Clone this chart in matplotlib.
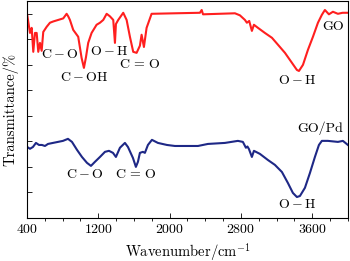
import matplotlib
matplotlib.use('Agg')
import matplotlib.pyplot as plt
from matplotlib.ticker import MultipleLocator, NullFormatter

plt.rcParams['font.family'] = 'serif'
plt.rcParams['font.serif'] = ['cmr10', 'DejaVu Serif']
plt.rcParams['mathtext.fontset'] = 'cm'
plt.rcParams['axes.formatter.use_mathtext'] = True

# GO spectrum
go_x = [403, 434, 453, 471, 490, 509, 527, 546, 565, 583, 621, 658, 695, 751,
        807, 845, 863, 882, 919, 975, 1013, 1039, 1062, 1087, 1125, 1181, 1219,
        1256, 1294, 1331, 1368, 1387, 1398, 1424, 1480, 1518, 1555, 1592, 1630,
        1667, 1686, 1712, 1742, 1798, 2060, 2340, 2360, 2375, 2733, 2789, 2845,
        2867, 2893, 2923, 2946, 2991, 3069, 3148, 3215, 3294, 3372, 3428, 3451,
        3496, 3552, 3608, 3664, 3708, 3742, 3787, 3832, 3888, 3940, 4000]
go_y = [7.96, 7.25, 7.45, 6.51, 7.25, 7.25, 6.51, 6.86, 6.55, 7.29, 7.49, 7.65,
        7.70, 7.76, 7.82, 8.00, 7.90, 7.76, 7.37, 7.10, 6.27, 5.88, 6.30, 6.86,
        7.25, 7.57, 7.65, 7.76, 8.00, 7.90, 7.76, 6.86, 7.60, 7.76, 8.04, 7.76,
        7.10, 6.51, 6.47, 6.75, 7.18, 6.70, 7.45, 8.00, 8.02, 8.04, 8.15, 7.98,
        8.02, 7.94, 7.76, 7.65, 7.72, 7.33, 7.57, 7.45, 7.25, 7.06, 6.79, 6.47,
        6.08, 5.80, 5.76, 6.00, 6.59, 7.10, 7.65, 7.96, 8.15, 7.98, 8.08, 8.00,
        8.04, 8.04]

# GO/Pd spectrum
gopd_x = [403, 434, 467, 501, 535, 568, 602, 636, 692, 748, 804, 860, 905, 961,
          1017, 1073, 1118, 1163, 1219, 1275, 1320, 1365, 1398, 1443, 1499,
          1533, 1589, 1622, 1645, 1667, 1701, 1723, 1757, 1802, 1869, 1970,
          2060, 2318, 2430, 2621, 2766, 2822, 2856, 2873, 2890, 2923, 2946,
          3013, 3103, 3181, 3260, 3327, 3383, 3428, 3462, 3518, 3574, 3630,
          3675, 3708, 3776, 3888, 3944, 4000]
gopd_y = [2.78, 2.71, 2.78, 2.94, 2.86, 2.86, 2.82, 2.90, 2.94, 2.98, 3.02,
          3.10, 2.98, 2.67, 2.39, 2.16, 2.04, 2.20, 2.39, 2.59, 2.63, 2.55,
          2.39, 2.75, 2.94, 2.78, 2.35, 2.00, 2.20, 2.55, 2.59, 2.55, 2.86,
          3.06, 2.94, 2.86, 2.82, 2.82, 2.90, 2.94, 3.02, 2.98, 2.75, 2.80,
          2.70, 2.39, 2.63, 2.51, 2.27, 2.08, 1.80, 1.37, 0.98, 0.82, 0.86,
          1.18, 1.76, 2.39, 2.86, 3.02, 3.02, 2.98, 3.02, 2.86]

xticks = [400, 1200, 2000, 2800, 3600]

# (x, y, text, horizontal alignment)
labels = [
    (765, 6.39, r'$\mathrm{C-O}$', 'center'),
    (1040, 5.49, r'$\mathrm{C-OH}$', 'center'),
    (1325, 6.51, r'$\mathrm{O-H}$', 'center'),
    (1668, 6.00, r'$\mathrm{C\,=\,O}$', 'center'),
    (3428, 5.37, r'$\mathrm{O-H}$', 'center'),
    (3950, 7.49, 'GO', 'right'),
    (3950, 3.53, 'GO/Pd', 'right'),
    (1045, 1.69, r'$\mathrm{C-O}$', 'center'),
    (1617, 1.69, r'$\mathrm{C\,=\,O}$', 'center'),
    (3428, 0.51, r'$\mathrm{O-H}$', 'center'),
]

fig = plt.figure(figsize=(3.5, 2.61), dpi=100)
ax = fig.add_axes([0.077, 0.165, 0.917, 0.831])

ax.plot(go_x, go_y, color='#ff1f1f', linewidth=1.5)
ax.plot(gopd_x, gopd_y, color='#1e2886', linewidth=1.5)

for x, y, s, ha in labels:
    ax.text(x, y, s, ha=ha, va='center', fontsize=10)

ax.set_xlim(400, 4000)
ax.set_ylim(0, 8.5)
ax.set_xticks(xticks)
ax.xaxis.set_minor_locator(MultipleLocator(200))
ax.yaxis.set_major_locator(MultipleLocator(1))
ax.yaxis.set_major_formatter(NullFormatter())
ax.tick_params(direction='in', labelsize=10, width=0.6)
ax.tick_params(which='major', length=3.5)
ax.tick_params(which='minor', length=2, width=0.6)
ax.tick_params(axis='x', pad=4)
for sp in ax.spines.values():
    sp.set_linewidth(0.8)

ax.set_xlabel(r'Wavenumber/cm$^{-1}$', fontsize=10.5, labelpad=3)
ax.set_ylabel('Transmittance/%', fontsize=10.5, labelpad=3)

fig.savefig('out.png', dpi=100)
